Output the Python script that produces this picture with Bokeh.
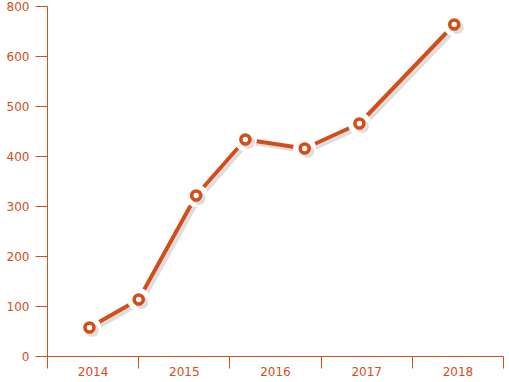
from bokeh.plotting import figure
from bokeh.models import FixedTicker, Range1d, ColumnDataSource
from bokeh.embed import file_html
from bokeh.resources import INLINE

# ---- data ----
years = [2014, 2015, 2016, 2017, 2018]
x_dates = [2014.46, 2015.00, 2015.63, 2016.17, 2016.82, 2017.42, 2018.46]
values = [58, 114, 322, 434, 416, 466, 664]
y_ticks = [0, 100, 200, 300, 400, 500, 600, 700]
y_labels = ["0", "100", "200", "300", "400", "500", "600", "800"]

C = "#D24E1B"
SHADOW = "#dedede"
FONT = "DejaVu Sans"

W, H = 509, 382
BL, BR, BT, BB = 47, 6, 6, 26
fw, fh = W - BL - BR, H - BT - BB

x0, x1 = years[0], years[-1] + 1
y0, y1 = 0, 700

p = figure(width=W, height=H, output_backend="svg", toolbar_location=None,
           x_range=Range1d(x0, x1), y_range=Range1d(y0, y1),
           min_border_left=BL, min_border_right=BR,
           min_border_top=BT, min_border_bottom=BB)
p.outline_line_color = None
p.xgrid.visible = False
p.ygrid.visible = False
p.background_fill_color = "white"
p.border_fill_color = "white"

# shadow offset in data units (style only)
dx = 3 * (x1 - x0) / fw
dy = 3 * (y1 - y0) / fh
src = ColumnDataSource(dict(
    x=x_dates, y=values,
    sx=[v + dx for v in x_dates], sy=[v - dy for v in values],
))

p.line("sx", "sy", source=src, line_color=SHADOW, line_width=4, line_join="round")
p.line("x", "y", source=src, line_color=C, line_width=4, line_join="round")
p.scatter("x", "y", source=src, size=23, fill_color="white", line_color=None)
p.scatter("sx", "sy", source=src, size=9, fill_color=None, line_color=SHADOW, line_width=4)
p.scatter("x", "y", source=src, size=9, fill_color="white", line_color=C, line_width=3.6)

# x axis: labels centred in each year, ticks at year boundaries
mids = [y + 0.5 for y in years]
xa = p.xaxis[0]
xa.ticker = FixedTicker(ticks=mids, minor_ticks=list(years) + [years[-1] + 1])
xa.major_label_overrides = {m: str(y) for m, y in zip(mids, years)}
xa.major_tick_out = 0
xa.major_tick_in = 0
xa.minor_tick_out = 12
xa.minor_tick_in = 0
xa.minor_tick_line_color = C
xa.axis_line_color = C
xa.major_label_text_color = C
xa.major_label_text_font = FONT
xa.major_label_text_font_size = "12px"
xa.major_label_standoff = -2

ya = p.yaxis[0]
ya.ticker = FixedTicker(ticks=y_ticks, minor_ticks=[])
ya.major_label_overrides = {t: l for t, l in zip(y_ticks, y_labels)}
ya.major_tick_out = 12
ya.major_tick_in = 0
ya.major_tick_line_color = C
ya.axis_line_color = C
ya.major_label_text_color = C
ya.major_label_text_font = FONT
ya.major_label_text_font_size = "12px"
ya.major_label_standoff = 6

open("out.html", "w").write(file_html(p, INLINE))
